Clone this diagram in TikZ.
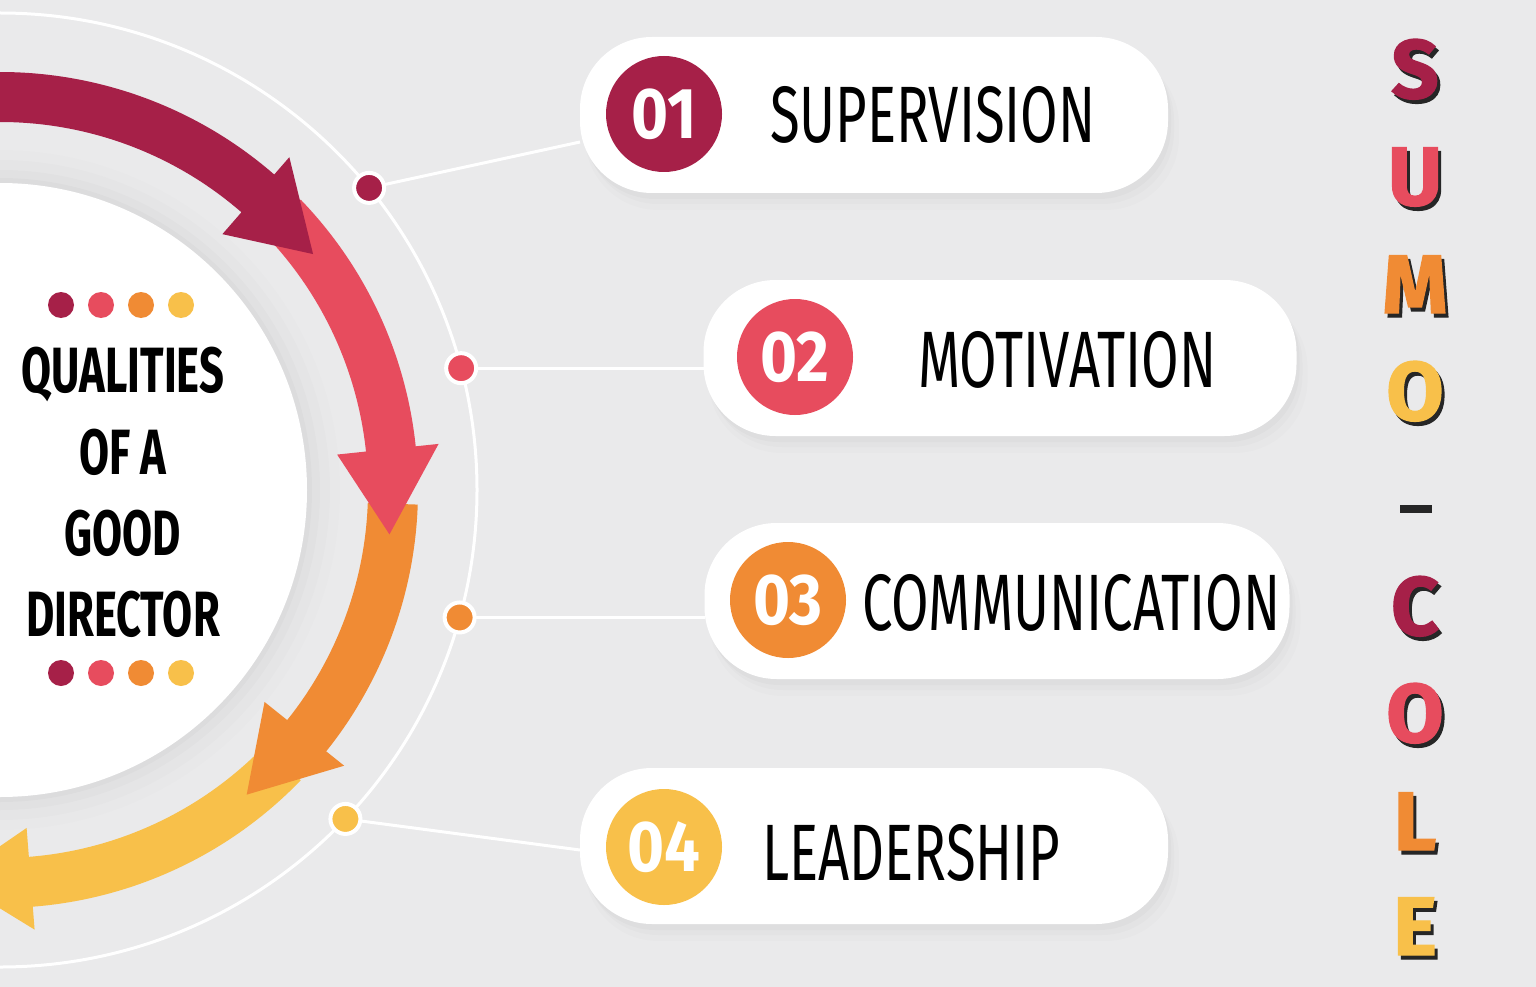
\documentclass[tikz,border=0pt]{standalone}
\usepackage{fontspec}
\usepackage{xcolor}
\usetikzlibrary{positioning,shadows}
\setmainfont{Fira Sans}
\newfontfamily\condfont[FakeStretch=0.68]{Fira Sans}
\newfontfamily\numfont[FakeStretch=0.88]{Fira Sans}
\newfontfamily\brandfont[FakeBold=1.6]{Fira Sans Bold}
\definecolor{bggray}{RGB}{234,234,235}
\definecolor{crimson}{RGB}{166,32,72}
\definecolor{rosered}{RGB}{231,76,94}
\definecolor{tangerine}{RGB}{240,139,52}
\definecolor{sunyellow}{RGB}{248,192,74}
\newcommand{\brandletter}[2]{\rlap{\kern3pt\raisebox{-4pt}{\color{black!85}#2}}\textcolor{#1}{#2}}

\begin{document}
\begin{tikzpicture}[
  x=1pt, y=-1pt,
  every node/.style={inner sep=0pt, outer sep=0pt},
  pill/.style={rectangle, rounded corners=72pt, fill=white, minimum height=156pt,
    general shadow={fill=black, opacity=0.012, shadow xshift=8pt, shadow yshift=-16pt, shadow scale=1.01},
    general shadow={fill=black, opacity=0.015, shadow xshift=6pt, shadow yshift=-11pt},
    general shadow={fill=black, opacity=0.02, shadow xshift=3pt, shadow yshift=-6pt}},
  num_disc/.style={circle, minimum size=116pt, text=white, font=\numfont\bfseries\fontsize{72}{72}\selectfont},
  item_text/.style={font=\condfont\fontsize{80}{80}\selectfont, text=black, anchor=base west},
  title_text/.style={font=\condfont\bfseries\fontsize{64}{64}\selectfont, text=black, anchor=base},
  brand_text/.style={font=\brandfont\fontsize{83}{83}\selectfont, anchor=base},
  ring_dot/.style={circle, minimum size=30pt, draw=white, line width=4pt},
  small_dot/.style={circle, minimum size=26pt},
  connector/.style={draw=white, line width=3pt}
]
\useasboundingbox (0,0) rectangle (1536,987);
\fill[bggray] (0,0) rectangle (1536,987);

\begin{scope}
\clip (0,0) rectangle (1536,987);
\begin{scope}[shift={(0,490)}]
% soft shade and white disc
\foreach \r/\o in {340/0.008, 330/0.01, 320/0.014, 312/0.018}
  \fill[black, opacity=\o] (0,0) circle[radius=\r];
\fill[white] (0,0) circle[radius=307];

% cycle arrows (last one drawn on top)
\foreach \col/\from/\base/\tip in {sunyellow/44/85.5/97, tangerine/2/38.7/51, rosered/-44/-6/6.5, crimson/-100/-49/-37}
  \fill[\col] (\from:418) arc[start angle=\from, end angle=\base, radius=418]
    -- (\base:441) -- (\tip:392) -- (\base:339) -- (\base:368)
    arc[start angle=\base, end angle=\from, radius=368] -- cycle;

% outer ring
\draw[connector] (0,0) circle[radius=477];

% ring dots
\node[ring_dot, fill=crimson] (d1) at (-39.3:477) {};
\node[ring_dot, fill=rosered] (d2) at (-14.8:477) {};
\node[ring_dot, fill=tangerine] (d3) at (15.5:477) {};
\node[ring_dot, fill=sunyellow] (d4) at (43.6:477) {};
\end{scope}
\end{scope}

% title in the disc
\foreach \col [count=\i] in {crimson, rosered, tangerine, sunyellow} {
  \node[small_dot, fill=\col] (top\i) at (21+40*\i,305) {};
  \node[small_dot, fill=\col] (bot\i) at (21+40*\i,673) {};
}
\node[title_text] (t1) at (123,392) {QUALITIES};
\node[title_text] (t2) at (123,474) {OF A};
\node[title_text] (t3) at (123,555) {GOOD};
\node[title_text] (t4) at (123,636) {DIRECTOR};

% pills
\node[pill, minimum width=588pt] (p1) at (874,115) {};
\node[pill, minimum width=593pt] (p2) at (1000,358) {};
\node[pill, minimum width=585pt] (p3) at (997,601) {};
\node[pill, minimum width=588pt] (p4) at (874,846) {};

% connectors
\draw[connector] (d1) -- ([yshift=-27pt]p1.west);
\draw[connector] (d2) -- (d2 -| p2.west);
\draw[connector] (d3) -- (d3 -| p3.west);
\draw[connector] (d4) -- ([yshift=-4pt]p4.west);

% numbers
\node[num_disc, fill=crimson] (n1) at (664,114) {01};
\node[num_disc, fill=rosered] (n2) at (795,357) {02};
\node[num_disc, fill=tangerine] (n3) at (788,600) {03};
\node[num_disc, fill=sunyellow] (n4) at (664,847) {04};

% labels
\node[item_text] (l1) at (770,143) {SUPERVISION};
\node[item_text] (l2) at (918,387) {MOTIVATION};
\node[item_text] (l3) at (862,630) {COMMUNICATION};
\node[item_text] (l4) at (762,880) {LEADERSHIP};

% SUMO - COLE
\foreach \ch/\col/\yy [count=\i] in {S/crimson/98, U/rosered/205, M/tangerine/313, O/sunyellow/420, C/crimson/635, O/rosered/742, L/tangerine/850, E/sunyellow/955}
  \node[brand_text] (b\i) at (1415,\yy) {\brandletter{\col}{\ch}};
\fill[black!85] (1400,505) rectangle (1432,513);
\end{tikzpicture}
\end{document}
